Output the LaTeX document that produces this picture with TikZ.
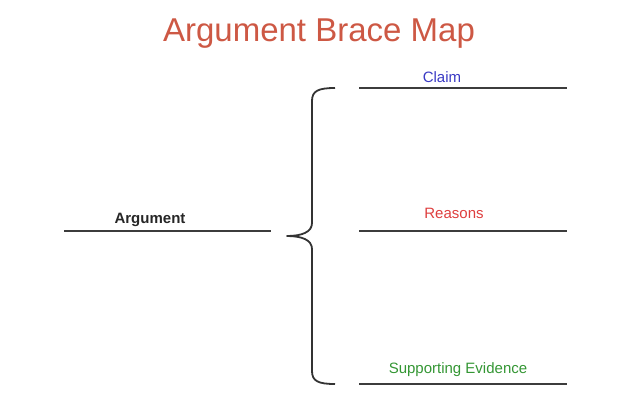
\documentclass[tikz,border=0pt]{standalone}
\usepackage{fontspec}
\setmainfont{Liberation Sans}
\definecolor{titlered}{RGB}{205,88,68}
\definecolor{claimblue}{RGB}{58,58,196}
\definecolor{reasonred}{RGB}{222,62,62}
\definecolor{evidgreen}{RGB}{52,150,52}
\definecolor{inkgray}{RGB}{60,60,60}
\begin{document}
\begin{tikzpicture}[x=1pt, y=-1pt,
    blank/.style={line width=1.8pt, inkgray},
    label/.style={anchor=base, inner sep=0pt, font=\fontsize{15}{18}\selectfont}]
    % page frame, 640 x 402, y grows downwards
    \useasboundingbox (0,0) rectangle (640,402);

    % Title
    \node[anchor=base, inner sep=0pt, text=titlered,
          font=\fontsize{33}{38}\selectfont] (title) at (319,41) {Argument Brace Map};

    % Left blank: the argument
    \coordinate (argL) at (64,231);
    \coordinate (argR) at (271,231);
    \draw[blank] (argL) -- (argR);
    \node[label, font=\fontsize{15}{18}\selectfont\bfseries, text=black!85] (arg) at (150,223) {Argument};

    % Brace tip and ends
    \coordinate (tip) at (287,236);
    \coordinate (top) at (335,88);
    \coordinate (bot) at (335,384);
    \draw[line width=1.8pt, black!80, line join=round] (top)
        .. controls (318,88) and (312,91) .. (312,101)  % upper hook
        -- (312,223)
        .. controls (312,232) and (302,236) .. (tip)     % cusp
        .. controls (302,236) and (312,240) .. (312,249)
        -- (312,371)
        .. controls (312,381) and (318,384) .. (bot);    % lower hook

    % Right blanks: claim, reasons, evidence
    \coordinate (claimL) at (359,88);
    \coordinate (claimR) at (567,88);
    \draw[blank] (claimL) -- (claimR);
    \node[label, text=claimblue] (claim) at (442,82) {Claim};

    \coordinate (reasL) at (359,231);
    \coordinate (reasR) at (567,231);
    \draw[blank] (reasL) -- (reasR);
    \node[label, text=reasonred] (reasons) at (454,218) {Reasons};

    \coordinate (evidL) at (359,384);
    \coordinate (evidR) at (567,384);
    \draw[blank] (evidL) -- (evidR);
    \node[label, text=evidgreen] (evidence) at (458,373) {Supporting Evidence};
\end{tikzpicture}
\end{document}
